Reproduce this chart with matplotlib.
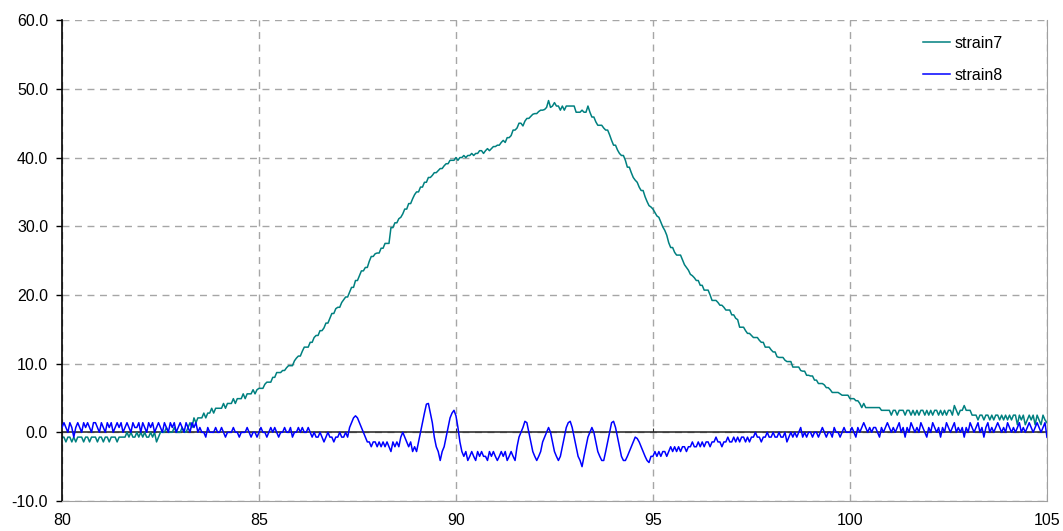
import matplotlib.pyplot as plt
import numpy as np

plt.rcParams["font.family"] = ["Liberation Sans", "DejaVu Sans"]

# samples every 0.05 from 80 to 105, one row per unit of x
x = np.linspace(80, 105, 501)

strain7 = [
    -0.7, -0.7, -1.4, -0.7, -0.7, -1.4, -0.7, -1.4, -0.7, -0.7, -0.7, -1.4, -0.7, -0.7, -1.4, -0.7, -0.7, -0.7, -1.4, -0.7,
    -0.7, -1.4, -0.7, -0.7, -1.4, -0.7, -0.7, -0.7, -1.4, -0.7, -0.7, -0.7, -0.7, 0.0, -0.7, 0.0, -0.7, -0.7, 0.0, -0.7,
    0.0, -0.7, 0.0, -0.7, -0.7, 0.0, -0.7, 0.0, -1.4, -0.7, 0.0, 0.0, 0.0, 0.7, 0.0, 0.0, 0.0, 0.7, 0.0, 0.0,
    0.0, 0.7, 0.0, 0.0, 0.7, 1.4, 0.7, 2.1, 1.4, 2.1, 2.1, 2.1, 2.8, 2.1, 2.8, 2.8, 3.5, 2.8, 3.5, 3.5,
    3.5, 3.5, 4.2, 3.5, 4.2, 4.2, 4.2, 4.9, 4.2, 4.9, 4.9, 4.9, 5.6, 4.9, 5.6, 5.6, 5.6, 6.2, 5.6, 6.2,
    6.4, 6.4, 6.4, 7.0, 7.3, 7.3, 7.3, 8.0, 8.0, 8.7, 8.7, 8.7, 9.0, 9.0, 9.4, 9.7, 9.7, 9.7, 10.4, 10.8,
    11.1, 11.1, 11.8, 12.4, 12.4, 12.4, 13.1, 13.1, 13.8, 14.1, 14.1, 14.8, 14.8, 15.2, 15.9, 15.9, 16.6, 17.3, 17.3, 18.0,
    18.2, 18.2, 18.9, 19.3, 19.7, 19.7, 20.4, 21.1, 21.1, 22.1, 22.1, 22.8, 23.5, 23.5, 24.0, 24.0, 24.9, 25.6, 25.6, 26.0,
    26.1, 26.1, 26.8, 26.8, 27.5, 27.5, 27.5, 29.8, 29.8, 30.5, 30.5, 31.1, 31.3, 31.8, 32.5, 32.5, 33.3, 33.3, 34.0, 34.6,
    35.0, 35.0, 35.7, 35.7, 36.4, 36.4, 37.1, 37.1, 37.4, 37.8, 37.8, 38.1, 38.4, 38.4, 38.8, 39.1, 39.1, 39.6, 39.6, 39.6,
    40.0, 39.6, 40.0, 40.0, 40.3, 40.0, 40.3, 40.3, 40.6, 40.3, 40.6, 40.6, 41.0, 41.0, 40.6, 41.0, 41.3, 41.0, 41.3, 41.6,
    41.6, 41.8, 41.8, 42.2, 42.5, 42.2, 42.9, 42.9, 43.2, 44.0, 44.0, 44.3, 45.0, 45.0, 44.6, 45.3, 45.7, 45.7, 46.0, 46.3,
    46.4, 46.4, 46.7, 46.9, 46.9, 47.0, 47.3, 48.3, 47.3, 47.5, 48.0, 47.5, 47.5, 46.9, 47.5, 46.9, 47.5, 47.5, 47.5, 47.5,
    47.5, 46.6, 46.6, 46.6, 46.9, 46.6, 46.6, 47.5, 46.6, 45.9, 45.9, 45.2, 44.7, 44.7, 44.7, 44.3, 44.0, 44.0, 43.3, 42.5,
    41.8, 41.8, 41.1, 40.6, 40.3, 40.3, 39.6, 38.6, 38.6, 37.8, 37.1, 36.7, 36.4, 35.7, 35.2, 35.2, 34.3, 33.6, 33.0, 32.8,
    32.5, 32.0, 31.5, 31.3, 30.6, 29.9, 29.4, 28.7, 27.6, 26.9, 26.9, 26.2, 25.8, 25.8, 25.8, 25.1, 24.4, 24.0, 23.6, 23.0,
    22.8, 22.5, 22.1, 22.1, 21.4, 21.4, 20.7, 20.7, 20.7, 20.0, 19.2, 19.2, 19.2, 18.9, 18.5, 18.5, 18.2, 17.8, 17.8, 17.8,
    17.1, 17.1, 16.6, 16.4, 15.3, 15.3, 15.3, 14.8, 14.4, 14.4, 14.1, 13.8, 13.8, 13.8, 13.4, 13.1, 13.1, 12.4, 12.4, 12.4,
    12.0, 11.7, 11.7, 11.0, 10.9, 10.9, 10.9, 10.5, 10.3, 10.3, 10.3, 9.5, 9.5, 9.5, 9.5, 9.0, 8.9, 8.9, 8.3, 8.3,
    8.2, 8.2, 7.6, 7.6, 7.1, 7.1, 7.1, 6.9, 6.5, 6.5, 6.2, 5.8, 5.8, 5.8, 5.8, 5.6, 5.4, 5.4, 5.4, 5.4,
    4.9, 4.9, 4.9, 4.6, 4.6, 4.2, 3.6, 4.2, 3.6, 3.6, 3.6, 3.6, 3.6, 3.6, 3.6, 3.6, 3.2, 3.2, 3.2, 3.2,
    3.2, 2.5, 3.2, 3.2, 2.5, 3.2, 3.2, 3.2, 2.5, 3.2, 3.2, 2.5, 3.2, 2.5, 3.2, 2.5, 3.2, 3.2, 2.5, 3.2,
    2.5, 3.2, 2.5, 3.2, 3.2, 2.5, 3.2, 2.5, 3.2, 2.5, 3.2, 3.2, 2.5, 3.9, 3.2, 2.5, 3.2, 3.2, 3.9, 3.2,
    3.2, 3.2, 2.5, 2.5, 2.5, 1.8, 2.5, 2.5, 1.8, 2.5, 2.5, 1.8, 2.5, 1.8, 2.5, 2.5, 1.8, 2.5, 1.8, 2.5,
    1.8, 2.5, 1.8, 2.5, 2.5, 1.1, 2.5, 1.8, 2.5, 1.1, 1.8, 2.5, 1.8, 2.5, 1.1, 2.5, 1.8, 1.1, 2.5, 1.8,
    1.4,
]

strain8 = [
    0.7, 1.4, 0.7, 0.0, 1.4, 0.7, -0.7, 0.7, 1.4, 0.7, 0.0, 1.4, 0.7, 1.4, 0.7, 0.0, 1.4, 1.4, 0.7, 0.0,
    1.4, 0.7, 0.0, 1.4, 0.7, 1.4, 0.0, 0.7, 1.4, 0.7, 1.4, 0.0, 0.7, 1.4, 0.7, 0.0, 1.4, 0.7, 0.7, 1.4,
    0.0, 1.4, 0.7, 0.0, 1.4, 0.7, 1.4, 0.0, 0.7, 1.4, 0.7, 0.0, 1.4, 0.7, 0.0, 1.4, 0.7, 1.4, 0.0, 0.7,
    1.4, 0.7, 0.0, 1.4, 0.7, 0.0, 1.4, 0.7, 1.4, 0.0, 0.7, 0.0, 0.0, -0.7, 0.7, 0.0, 0.0, 0.0, 0.7, 0.0,
    0.0, 0.7, 0.0, -0.7, 0.0, 0.0, 0.0, 0.7, 0.0, 0.0, -0.7, 0.0, 0.0, 0.0, 0.7, 0.0, -0.7, 0.0, 0.0, -0.7,
    0.0, 0.7, 0.0, 0.0, -0.7, 0.0, 0.7, 0.0, 0.7, 0.0, -0.7, 0.0, 0.0, 0.7, 0.0, 0.0, 0.7, -0.7, 0.0, 0.0,
    0.7, 0.0, 0.7, 0.0, 0.0, 0.7, 0.0, -0.7, 0.0, -0.7, -0.7, 0.0, -0.7, -1.4, -0.7, 0.0, -0.7, -0.7, -1.4, -0.7,
    -0.7, 0.0, -0.7, -0.7, 0.0, -0.7, 0.7, 1.4, 2.1, 2.4, 2.1, 1.4, 0.7, 0.0, -0.7, -1.4, -1.4, -2.1, -1.4, -1.4,
    -2.1, -1.4, -2.1, -1.4, -2.1, -1.4, -2.1, -2.8, -1.4, -2.1, -1.4, -2.1, -0.7, 0.0, -0.7, -1.4, -2.1, -1.4, -2.8, -2.1,
    -2.8, -1.4, 0.0, 1.4, 2.8, 4.1, 4.2, 2.8, 1.4, -0.7, -2.1, -2.8, -4.1, -2.8, -2.1, -0.7, 0.7, 2.1, 2.8, 3.2,
    2.4, 0.7, -1.4, -2.8, -3.5, -2.8, -4.1, -3.5, -2.8, -3.5, -4.1, -2.8, -3.5, -2.8, -3.5, -3.5, -4.1, -2.8, -3.5, -2.8,
    -3.5, -4.1, -3.5, -2.8, -3.5, -2.8, -4.1, -3.5, -2.8, -3.5, -4.1, -2.1, -0.7, 0.0, 0.7, 1.6, 1.4, 0.0, -1.4, -2.8,
    -3.5, -4.1, -3.5, -2.8, -1.4, -0.7, 0.0, 0.7, 0.0, -1.4, -2.8, -3.5, -4.1, -3.5, -2.1, -0.7, 0.7, 1.4, 1.6, 0.7,
    -0.7, -2.1, -3.5, -4.1, -5.0, -3.5, -2.1, -0.7, 0.0, 0.7, 0.0, -1.4, -2.8, -3.5, -4.1, -4.1, -2.8, -1.4, 0.0, 1.4,
    1.6, 0.7, -0.7, -2.1, -3.5, -4.1, -4.1, -3.5, -2.8, -2.1, -1.4, -0.7, -0.9, -1.4, -2.1, -2.8, -3.5, -4.1, -4.4, -3.5,
    -3.5, -2.8, -3.5, -2.8, -3.5, -2.8, -2.8, -3.5, -2.8, -2.1, -2.8, -2.1, -2.8, -2.1, -2.8, -2.1, -2.1, -2.8, -2.1, -2.1,
    -1.4, -2.1, -2.1, -1.4, -2.1, -1.4, -2.1, -1.4, -1.4, -2.1, -1.4, -1.4, -0.7, -1.4, -1.4, -2.1, -1.4, -1.4, -0.7, -1.4,
    -1.4, -0.7, -1.4, -0.7, -1.4, -0.7, -0.7, -1.4, -0.7, -1.4, -0.7, -0.7, 0.0, -0.7, -0.7, -1.4, -0.7, -0.7, 0.0, -0.7,
    -0.7, 0.0, -0.7, -0.7, 0.0, -0.7, -0.7, 0.0, -1.4, -0.7, 0.0, -0.7, 0.0, -0.7, 0.0, 0.7, -0.7, 0.0, -0.7, 0.0,
    0.0, -0.7, 0.0, 0.0, -0.7, 0.0, 0.7, 0.0, -0.7, 0.0, 0.0, -0.7, 0.7, 0.0, 0.0, -0.7, 0.0, 0.7, 0.0, 0.0,
    0.0, 0.7, 0.0, -0.7, 0.7, 0.0, 0.7, 1.4, 0.7, 0.0, 0.7, 0.0, 0.7, 0.7, 0.0, -0.7, 0.7, 0.0, 0.7, 1.4,
    0.7, 0.0, 0.7, 0.0, 0.7, 1.4, 0.0, 0.7, -0.7, 0.7, 0.0, 1.4, 0.7, 0.0, 0.7, 0.0, 1.4, 0.7, 0.0, -0.7,
    0.7, 0.0, 1.4, 0.7, 0.0, 0.7, -0.7, 0.7, 0.0, 1.4, 0.7, 0.0, 0.7, 1.4, 0.0, 0.7, 0.0, 0.7, -0.7, 0.7,
    0.0, 1.4, 0.7, 0.0, 0.7, 1.4, 0.0, 0.7, -0.7, 0.7, 1.4, 0.0, 0.7, 0.0, 0.7, 1.4, 0.7, 0.0, 0.7, 0.0,
    1.4, 0.7, 0.0, 0.7, 0.0, 0.7, 1.4, 0.0, 0.7, 0.0, 0.7, 1.4, 0.7, 0.0, 0.7, 1.4, 0.7, 0.0, 0.7, 1.4,
    -0.7,
]

xticks = [80, 85, 90, 95, 100, 105]
yticks = [-10, 0, 10, 20, 30, 40, 50, 60]

fig = plt.figure(figsize=(10.63, 5.31), dpi=100)
ax = fig.add_axes([0.0583, 0.0565, 0.9266, 0.9055])

ax.set_xlim(80, 105)
ax.set_ylim(-10, 60)
ax.set_xticks(xticks)
ax.set_yticks(yticks)
ax.set_yticklabels([f"{v:.1f}" for v in yticks])
ax.grid(True, color="#a6a6a6", linestyle=(0, (5, 4)), linewidth=1.0)
ax.set_axisbelow(True)

ax.axhline(0, color="#202020", linewidth=1.1, zorder=1.5)
ax.plot(x, strain7, color="#008080", linewidth=1.1, label="strain7", zorder=2)
ax.plot(x, strain8, color="#0000ff", linewidth=1.1, label="strain8", zorder=3)

ax.spines["top"].set_visible(False)
ax.spines["right"].set_color("#a0a0a0")
ax.spines["bottom"].set_color("#a0a0a0")
ax.spines["left"].set_color("black")
ax.spines["left"].set_linewidth(1.2)

ax.tick_params(axis="y", length=4, width=1, color="black", labelsize=11.5, pad=6)
ax.tick_params(axis="x", length=0, labelsize=11.5, pad=9)

# tick marks where the category axis crosses zero
sec = ax.secondary_xaxis(1 / 7)
sec.set_xticks(xticks[1:-1])
sec.tick_params(length=6, direction="inout", color="#303030", labelbottom=False, labeltop=False)
sec.spines["bottom"].set_visible(False)
sec.spines["top"].set_visible(False)

ax.legend(loc="upper left", bbox_to_anchor=(0.874, 0.967), frameon=False,
          fontsize=11.5, handlelength=1.7, handletextpad=0.3,
          labelspacing=1.06, borderpad=0, borderaxespad=0)

plt.savefig("out.png", dpi=100)
plt.close()
